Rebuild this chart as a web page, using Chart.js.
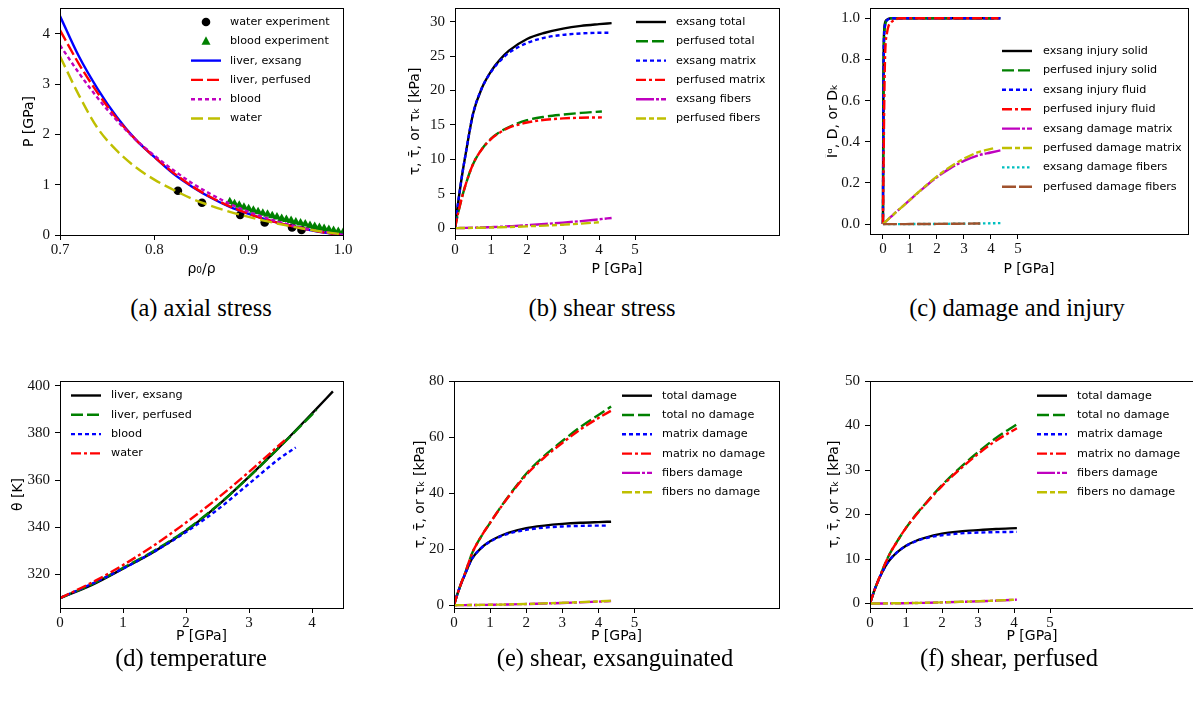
<!DOCTYPE html>
<html>
<head>
<meta charset="utf-8">
<script src="https://cdn.jsdelivr.net/npm/chart.js@4.4.1/dist/chart.umd.min.js"></script>
<style>
  body { margin: 0; width: 1193px; height: 705px; overflow: hidden; background: #fff; position: relative; }
  canvas { position: absolute; }
  .cap { position: absolute; font-family: "Liberation Serif", serif; font-size: 24.5px; color: #000;
         transform: translate(-50%, -50%); white-space: nowrap; }
</style>
</head>
<body>
<script>
// ---- (a) axial stress ----
const aRatio = [0.70, 0.72, 0.74, 0.76, 0.78, 0.80, 0.82, 0.84, 0.86, 0.88, 0.90, 0.92, 0.94, 0.96, 0.98, 1.00];
const aLiverExsang = [4.35, 3.55, 2.90, 2.35, 1.90, 1.55, 1.22, 0.96, 0.74, 0.56, 0.42, 0.30, 0.20, 0.12, 0.05, 0];
const aLiverPerfused = [4.07, 3.40, 2.82, 2.32, 1.90, 1.55, 1.24, 0.97, 0.75, 0.57, 0.42, 0.30, 0.20, 0.12, 0.05, 0];
const aBlood = [3.77, 3.22, 2.72, 2.28, 1.90, 1.58, 1.29, 1.03, 0.81, 0.62, 0.46, 0.33, 0.22, 0.13, 0.06, 0];
const aWater = [3.55, 2.78, 2.12, 1.68, 1.35, 1.10, 0.90, 0.72, 0.58, 0.46, 0.36, 0.27, 0.19, 0.12, 0.06, 0.01];
const aWaterExpRatio = [0.825, 0.8505, 0.891, 0.917, 0.946, 0.956];
const aWaterExpP = [0.88, 0.64, 0.40, 0.25, 0.15, 0.10];
const aBloodExpRatio = [0.880, 0.885, 0.890, 0.895, 0.900, 0.905, 0.910, 0.915, 0.920, 0.925, 0.930, 0.935, 0.940,
                        0.945, 0.950, 0.955, 0.960, 0.965, 0.970, 0.975, 0.980, 0.985, 0.990, 0.995, 1.000];
const aBloodExpP = [0.66, 0.62, 0.59, 0.55, 0.52, 0.49, 0.46, 0.43, 0.41, 0.38, 0.36, 0.33, 0.31,
                    0.29, 0.26, 0.24, 0.22, 0.19, 0.17, 0.15, 0.13, 0.11, 0.09, 0.07, 0.05];
const aRatioTicks = [0.7, 0.8, 0.9, 1.0];
const aPTicks = [0, 1, 2, 3, 4];

// ---- pressures used by (b), (c), (e), (f) ----
const pExsang = [0, 0.05, 0.1, 0.2, 0.3, 0.5, 0.75, 1, 1.25, 1.5, 2, 2.5, 3, 3.5, 4, 4.35];
const pExsangMatrix = [0, 0.05, 0.1, 0.2, 0.3, 0.5, 0.75, 1, 1.25, 1.5, 2, 2.5, 3, 3.5, 4, 4.26];
const pPerfused = [0, 0.05, 0.1, 0.2, 0.3, 0.5, 0.75, 1, 1.25, 1.5, 2, 2.5, 3, 3.5, 4.08];
const pTicks = [0, 1, 2, 3, 4, 5];

// ---- (b) shear stress ----
const tauExsangTotal = [0, 2.2, 4.2, 7.8, 10.9, 16.6, 20.4, 22.8, 24.5, 25.8, 27.5, 28.4, 29.0, 29.4, 29.65, 29.8];
const tauExsangMatrix = [0, 2.2, 4.2, 7.8, 10.9, 16.6, 20.4, 22.7, 24.3, 25.5, 26.9, 27.7, 28.1, 28.3, 28.4, 28.4];
const tauPerfusedTotal = [0, 1.3, 2.5, 4.6, 6.4, 9.3, 11.5, 13.0, 14.0, 14.7, 15.7, 16.2, 16.5, 16.75, 16.95];
const tauPerfusedMatrix = [0, 1.3, 2.5, 4.6, 6.4, 9.3, 11.5, 12.95, 13.9, 14.6, 15.35, 15.75, 15.95, 16.05, 16.1];
const tauExsangFibers = [0, 0, 0.01, 0.02, 0.03, 0.06, 0.1, 0.15, 0.2, 0.27, 0.42, 0.6, 0.8, 1.02, 1.28, 1.48];
const tauPerfusedFibers = [0, 0, 0.005, 0.01, 0.02, 0.04, 0.06, 0.09, 0.12, 0.16, 0.26, 0.37, 0.5, 0.65, 0.88];
const bTauTicks = [0, 5, 10, 15, 20, 25, 30];

// ---- (c) damage and injury ----
const pInjury = [0, 0.01, 0.02, 0.03, 0.05, 0.08, 0.12, 0.2, 0.3, 4.35];
const pInjuryPerf = [0, 0.01, 0.02, 0.03, 0.05, 0.08, 0.12, 0.2, 0.3, 4.1];
const injExsangSolid = [0, 0.45, 0.75, 0.88, 0.95, 0.98, 0.99, 0.997, 1, 1];
const injPerfusedSolid = [0, 0.35, 0.65, 0.8, 0.92, 0.965, 0.985, 0.995, 1, 1];
const injExsangFluid = [0, 0.4, 0.7, 0.85, 0.93, 0.97, 0.985, 0.995, 1, 1];
const pInjuryFluidPerf = [0, 0.02, 0.04, 0.06, 0.08, 0.1, 0.15, 0.2, 0.3, 0.45, 0.6, 4.28];
const injPerfusedFluid = [0, 0.25, 0.5, 0.7, 0.82, 0.88, 0.93, 0.96, 0.98, 0.993, 1, 1];
const dmgExsangMatrix = [0, 0.006, 0.012, 0.024, 0.036, 0.06, 0.089, 0.118, 0.147, 0.175, 0.228, 0.272, 0.307, 0.333, 0.348, 0.358];
const dmgPerfusedMatrix = [0, 0.006, 0.012, 0.024, 0.036, 0.06, 0.089, 0.118, 0.148, 0.177, 0.232, 0.279, 0.318, 0.348, 0.368];
const dmgExsangFibers = [0, 0, 0, 0, 0, 0, 0, 0.0002, 0.0004, 0.0006, 0.001, 0.0015, 0.002, 0.003, 0.004, 0.005];
const pFibersPerf = [0, 0.5, 1, 1.5, 2, 2.5, 3, 3.6];
const dmgPerfusedFibers = [0, 0, 0.0003, 0.0006, 0.001, 0.0016, 0.0023, 0.003];
const cTicks = [0, 0.2, 0.4, 0.6, 0.8, 1.0];

// ---- (d) temperature ----
const pTempExsang = [0, 0.5, 1, 1.5, 2, 2.5, 3, 3.5, 4, 4.33];
const thetaExsang = [310, 315.5, 322.5, 329.8, 338.5, 349.2, 361.5, 374.5, 388.3, 397.6];
const pTempPerfused = [0, 0.5, 1, 1.5, 2, 2.5, 3, 3.5, 4.07];
const thetaPerfused = [310, 315.8, 322.8, 330.2, 338.8, 349.3, 361.4, 374.4, 389.7];
const pTempBlood = [0, 0.5, 1, 1.5, 2, 2.5, 3, 3.5, 3.74];
const thetaBlood = [310, 316, 322.5, 329.8, 338, 347.5, 358.5, 369.5, 373.8];
const pTempWater = [0, 0.5, 1, 1.5, 2, 2.5, 3, 3.59];
const thetaWater = [310, 316.5, 324, 332.5, 342, 352.3, 363.5, 377.5];
const dPTicks = [0, 1, 2, 3, 4];
const dThetaTicks = [320, 340, 360, 380, 400];

// ---- (e) shear, exsanguinated ----
const tauExsangTotalNoDmg = [0, 2.2, 4.2, 7.9, 11.2, 18.5, 24.5, 29.4, 34.2, 38.7, 46.9, 53.3, 58.6, 63.6, 67.9, 70.9];
const tauExsangMatrixNoDmg = [0, 2.2, 4.2, 7.9, 11.2, 18.5, 24.5, 29.4, 34.1, 38.5, 46.5, 52.7, 57.9, 62.7, 66.8, 69.4];
const tauExsangFibersNoDmg = [0, 0, 0.01, 0.02, 0.03, 0.06, 0.1, 0.16, 0.22, 0.29, 0.45, 0.64, 0.85, 1.08, 1.35, 1.55];
const eTauTicks = [0, 20, 40, 60, 80];

// ---- (f) shear, perfused ----
const tauPerfusedTotalNoDmg = [0, 1.2, 2.4, 4.6, 6.6, 10.4, 13.9, 17.0, 19.7, 22.1, 26.6, 30.5, 34.0, 37.2, 40.3];
const tauPerfusedMatrixNoDmg = [0, 1.2, 2.4, 4.6, 6.6, 10.4, 13.9, 17.0, 19.6, 22.0, 26.4, 30.2, 33.6, 36.6, 39.4];
const tauPerfusedFibersNoDmg = [0, 0, 0.005, 0.01, 0.02, 0.04, 0.07, 0.1, 0.13, 0.17, 0.27, 0.39, 0.52, 0.67, 0.9];
const fTauTicks = [0, 10, 20, 30, 40, 50];

// line styles (matplotlib-ish)
const K = '#000000', G = '#008000', B = '#0000ff', R = '#ff0000', M = '#bf00bf', Y = '#bfbf00', C = '#00bfbf', BR = '#a0522d';
const SOLID = [], DASHED = [12, 4], DOTTED = [4, 3], DASHDOT = [10, 3, 3, 3], LONGDASHDOT = [18, 2, 3, 2],
      DASHDASH = [10, 3, 5, 3], FINEDOT = [2.5, 2.5], LONGDASH = [14, 3];

function line(label, xs, ys, color, dash) {
  return {
    label, data: xs.map((x, i) => ({x, y: ys[i]})),
    borderColor: color, backgroundColor: color, borderWidth: 2.4, borderDash: dash,
    pointRadius: 0, fill: false, cubicInterpolationMode: 'monotone'
  };
}
function marks(label, xs, ys, color, style) {
  return {
    label, data: xs.map((x, i) => ({x, y: ys[i]})), showLine: false,
    pointStyle: style, pointRadius: style === 'triangle' ? 5 : 4.3, pointBorderWidth: 0,
    pointBackgroundColor: color, borderColor: color, backgroundColor: color
  };
}

const frame = {
  id: 'frame',
  afterDatasetsDraw(chart) {
    const {ctx, chartArea: a} = chart;
    ctx.save();
    ctx.strokeStyle = '#000';
    ctx.lineWidth = 1;
    ctx.strokeRect(Math.round(a.left) + 0.5, Math.round(a.top) + 0.5, Math.round(a.right - a.left), Math.round(a.bottom - a.top));
    ctx.restore();
  }
};

const insetLegend = {
  id: 'insetLegend',
  afterDraw(chart, args, o) {
    const ctx = chart.ctx;
    ctx.save();
    ctx.font = '11.2px "DejaVu Sans"';
    ctx.textBaseline = 'middle';
    chart.data.datasets.forEach((ds, i) => {
      const x = o.x - o.ox, y = o.y - o.oy + i * o.dy;
      if (ds.showLine === false) {
        ctx.fillStyle = ds.pointBackgroundColor;
        ctx.beginPath();
        if (ds.pointStyle === 'triangle') {
          ctx.moveTo(x + 15, y - 5); ctx.lineTo(x + 19.5, y + 3.5); ctx.lineTo(x + 10.5, y + 3.5); ctx.closePath();
        } else {
          ctx.arc(x + 15, y, 4.3, 0, Math.PI * 2);
        }
        ctx.fill();
      } else {
        ctx.beginPath();
        ctx.setLineDash(ds.borderDash);
        ctx.lineWidth = ds.borderWidth;
        ctx.strokeStyle = ds.borderColor;
        ctx.moveTo(x, y); ctx.lineTo(x + 30, y);
        ctx.stroke();
        ctx.setLineDash([]);
      }
      ctx.fillStyle = '#000';
      ctx.fillText(ds.label, x + o.tx, y);
    });
    ctx.restore();
  }
};

const tickFont = {family: '"Liberation Serif", serif', size: 15};
const titleFont = {family: '"DejaVu Sans", sans-serif', size: 14};

function axis(spec, fixed, isX) {
  return {
    type: 'linear', min: spec.min, max: spec.max, bounds: 'data',
    afterBuildTicks: s => { s.ticks = spec.ticks.map(v => ({value: v})); },
    afterFit: s => { if (isX) s.height = fixed; else s.width = fixed; },
    ticks: {callback: v => spec.fmt(v), font: tickFont, color: '#111', padding: isX ? 1 : 5, autoSkip: false, maxRotation: 0},
    grid: {drawOnChartArea: false, drawTicks: true, tickLength: 5, color: '#000', lineWidth: 1},
    border: {display: false},
    title: {display: true, text: spec.title, font: titleFont, color: '#000', padding: 0}
  };
}

const int = v => String(v);
const one = v => v.toFixed(1);
const tauTitle = 'τ, τ̄, or τₖ [kPa]';

const panels = [
  { plot: {l: 60, t: 4, r: 343, b: 235}, yTitleX: 29, xTitleY: 270,
    x: {min: 0.7, max: 1.0, ticks: aRatioTicks, fmt: one, title: 'ρ₀/ρ'},
    y: {min: 0, max: 4.51, ticks: aPTicks, fmt: int, title: 'P [GPa]'},
    legend: {x: 191, y: 22, dy: 19.3, tx: 39},
    datasets: [
      marks('water experiment', aWaterExpRatio, aWaterExpP, K, 'circle'),
      marks('blood experiment', aBloodExpRatio, aBloodExpP, G, 'triangle'),
      line('liver, exsang', aRatio, aLiverExsang, B, SOLID),
      line('liver, perfused', aRatio, aLiverPerfused, R, DASHED),
      line('blood', aRatio, aBlood, M, DOTTED),
      line('water', aRatio, aWater, Y, [12, 5])
    ]},
  { plot: {l: 455, t: 4, r: 779, b: 235}, yTitleX: 415, xTitleY: 270,
    x: {min: 0, max: 9, ticks: pTicks, fmt: int, title: 'P [GPa]'},
    y: {min: -1, max: 32, ticks: bTauTicks, fmt: int, title: tauTitle},
    legend: {x: 636, y: 22, dy: 19.3, tx: 40},
    datasets: [
      line('exsang total', pExsang, tauExsangTotal, K, SOLID),
      line('perfused total', pPerfused, tauPerfusedTotal, G, DASHED),
      line('exsang matrix', pExsangMatrix, tauExsangMatrix, B, DOTTED),
      line('perfused matrix', pPerfused, tauPerfusedMatrix, R, DASHDOT),
      line('exsang fibers', pExsang, tauExsangFibers, M, LONGDASHDOT),
      line('perfused fibers', pPerfused, tauPerfusedFibers, Y, DASHDASH)
    ]},
  { plot: {l: 870, t: 4, r: 1188, b: 234}, yTitleX: 833, xTitleY: 270,
    x: {min: -0.48, max: 11.3, ticks: pTicks, fmt: int, title: 'P [GPa]'},
    y: {min: -0.048, max: 1.05, ticks: cTicks, fmt: one, title: 'Īᵅ, D̄, or Dₖ'},
    legend: {x: 1002, y: 51, dy: 19.4, tx: 41},
    datasets: [
      line('exsang injury solid', pInjury, injExsangSolid, K, SOLID),
      line('perfused injury solid', pInjuryPerf, injPerfusedSolid, G, DASHED),
      line('exsang injury fluid', pInjury, injExsangFluid, B, DOTTED),
      line('perfused injury fluid', pInjuryFluidPerf, injPerfusedFluid, R, DASHDOT),
      line('exsang damage matrix', pExsang, dmgExsangMatrix, M, LONGDASHDOT),
      line('perfused damage matrix', pPerfused, dmgPerfusedMatrix, Y, DASHDASH),
      line('exsang damage fibers', pExsang, dmgExsangFibers, C, FINEDOT),
      line('perfused damage fibers', pFibersPerf, dmgPerfusedFibers, BR, LONGDASH)
    ]},
  { plot: {l: 60, t: 377, r: 343, b: 608}, yTitleX: 18, xTitleY: 637,
    x: {min: 0, max: 4.49, ticks: dPTicks, fmt: int, title: 'P [GPa]'},
    y: {min: 305.8, max: 402, ticks: dThetaTicks, fmt: int, title: 'θ [K]'},
    legend: {x: 71, y: 395.5, dy: 19.3, tx: 40},
    datasets: [
      line('liver, exsang', pTempExsang, thetaExsang, K, SOLID),
      line('liver, perfused', pTempPerfused, thetaPerfused, G, DASHED),
      line('blood', pTempBlood, thetaBlood, B, DOTTED),
      line('water', pTempWater, thetaWater, R, DASHDOT)
    ]},
  { plot: {l: 454, t: 377, r: 779, b: 608}, yTitleX: 420, xTitleY: 637,
    x: {min: 0, max: 9, ticks: pTicks, fmt: int, title: 'P [GPa]'},
    y: {min: -1, max: 80, ticks: eTauTicks, fmt: int, title: tauTitle},
    legend: {x: 622, y: 395.7, dy: 19.3, tx: 40},
    datasets: [
      line('total damage', pExsang, tauExsangTotal, K, SOLID),
      line('total no damage', pExsang, tauExsangTotalNoDmg, G, DASHED),
      line('matrix damage', pExsangMatrix, tauExsangMatrix, B, DOTTED),
      line('matrix no damage', pExsang, tauExsangMatrixNoDmg, R, DASHDOT),
      line('fibers damage', pExsang, tauExsangFibers, M, LONGDASHDOT),
      line('fibers no damage', pExsang, tauExsangFibersNoDmg, Y, DASHDASH)
    ]},
  { plot: {l: 870, t: 377, r: 1194, b: 608}, yTitleX: 834, xTitleY: 637,
    x: {min: 0, max: 9, ticks: pTicks, fmt: int, title: 'P [GPa]'},
    y: {min: -1, max: 50, ticks: fTauTicks, fmt: int, title: tauTitle},
    legend: {x: 1037, y: 395.7, dy: 19.3, tx: 40},
    datasets: [
      line('total damage', pPerfused, tauPerfusedTotal, K, SOLID),
      line('total no damage', pPerfused, tauPerfusedTotalNoDmg, G, DASHED),
      line('matrix damage', pPerfused, tauPerfusedMatrix, B, DOTTED),
      line('matrix no damage', pPerfused, tauPerfusedMatrixNoDmg, R, DASHDOT),
      line('fibers damage', pPerfused, tauPerfusedFibers, M, LONGDASHDOT),
      line('fibers no damage', pPerfused, tauPerfusedFibersNoDmg, Y, DASHDASH)
    ]}
];

const captions = [
  ['(a) axial stress', 201, 308], ['(b) shear stress', 602, 308], ['(c) damage and injury', 1017, 308],
  ['(d) temperature', 191, 658], ['(e) shear, exsanguinated', 615, 658], ['(f) shear, perfused', 1009, 658]
];

panels.forEach(p => {
  const left = Math.round(p.yTitleX - 8.4);
  const top = p.plot.t - 10;
  const yW = p.plot.l - left;
  const xH = Math.round(p.xTitleY + 8.4 - p.plot.b);
  const canvas = document.createElement('canvas');
  canvas.width = p.plot.r + 12 - left;
  canvas.height = p.plot.b + xH - top;
  canvas.style.left = left + 'px';
  canvas.style.top = top + 'px';
  document.body.appendChild(canvas);
  p.datasets.forEach((d, i) => { d.order = -i; });
  new Chart(canvas, {
    type: 'line',
    data: {datasets: p.datasets},
    options: {
      responsive: false, animation: false,
      layout: {padding: {top: 10, right: 12, left: 0, bottom: 0}},
      plugins: {legend: {display: false}, tooltip: {enabled: false},
                insetLegend: Object.assign({ox: left, oy: top}, p.legend)},
      scales: {x: axis(p.x, xH, true), y: axis(p.y, yW, false)}
    },
    plugins: [frame, insetLegend]
  });
});

captions.forEach(([text, x, y]) => {
  const d = document.createElement('div');
  d.className = 'cap';
  d.textContent = text;
  d.style.left = x + 'px';
  d.style.top = y + 'px';
  document.body.appendChild(d);
});
</script>
</body>
</html>
